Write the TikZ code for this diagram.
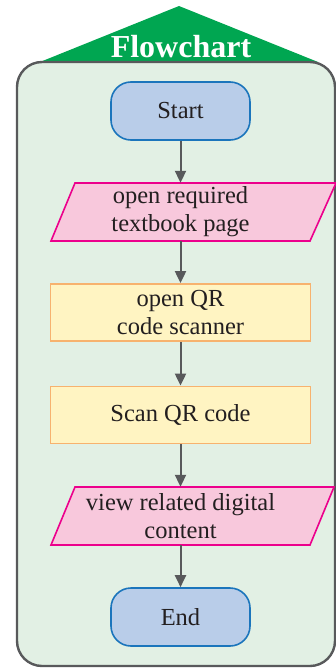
\documentclass[tikz,border=0pt]{standalone}
\usepackage{fontspec}
\setmainfont{Liberation Serif}
\usetikzlibrary{arrows.meta}
\definecolor{tri}{HTML}{00A651}
\definecolor{outerfill}{HTML}{E2F0E4}
\definecolor{outerdraw}{HTML}{58595B}
\definecolor{termfill}{HTML}{B9CDE9}
\definecolor{termdraw}{HTML}{1B75BC}
\definecolor{iofill}{HTML}{F8C8DC}
\definecolor{iodraw}{HTML}{EC008C}
\definecolor{procfill}{HTML}{FFF4C2}
\definecolor{procdraw}{HTML}{F7B26E}
\definecolor{txt}{HTML}{231F20}
\tikzset{
  lbl/.style={font=\rmfamily\fontsize{24.5}{28}\selectfont, text=txt, align=center, inner sep=0pt},
  term/.style={lbl, rectangle, rounded corners=20pt, draw=termdraw, fill=termfill, line width=1.6pt, minimum width=139pt, minimum height=58pt},
  proc/.style={lbl, rectangle, draw=procdraw, fill=procfill, line width=1.8pt, minimum width=260pt, minimum height=57pt},
  iobox/.style={lbl, rectangle, minimum width=235pt, minimum height=58pt},
  iopath/.style={draw=iodraw, fill=iofill, line width=1.6pt, line join=miter},
  flow/.style={draw=outerdraw, line width=2pt, -{Triangle[length=12pt,width=11pt]}}
}
\begin{document}
\begin{tikzpicture}[x=1pt,y=-1pt]
\useasboundingbox (0,0) rectangle (336,669);
% title triangle
\fill[tri] (179,6) -- (318,62) -- (40,62) -- cycle;
\node[font=\rmfamily\bfseries\fontsize{32}{34}\selectfont, text=white, inner sep=0pt, anchor=base] (title) at (181,58) {Flowchart};
% outer panel
\draw[outerdraw, fill=outerfill, line width=2.4pt, rounded corners=25pt] (17,62) rectangle (335,666);
% nodes
\node[term] (start) at (180.5,111) {Start};
\path[iopath] (75,183) -- (336,183) -- (310,241) -- (51,241) -- cycle;
\node[iobox] (open) at (180.5,212) {open required\\textbook page};
\node[proc] (scanner) at (180.5,312.5) {open QR\\code scanner};
\node[proc] (scan) at (180.5,415) {Scan QR code};
\path[iopath] (75,487) -- (334,487) -- (310,545) -- (51,545) -- cycle;
\node[iobox] (view) at (180.5,516) {view related digital\\content};
\node[term] (end) at (180.5,617) {End};
% connectors
\draw[flow] (start.south) -- (open.north);
\draw[flow] (open.south) -- (scanner.north);
\draw[flow] (scanner.south) -- (scan.north);
\draw[flow] (scan.south) -- (view.north);
\draw[flow] (view.south) -- (end.north);
\end{tikzpicture}
\end{document}
